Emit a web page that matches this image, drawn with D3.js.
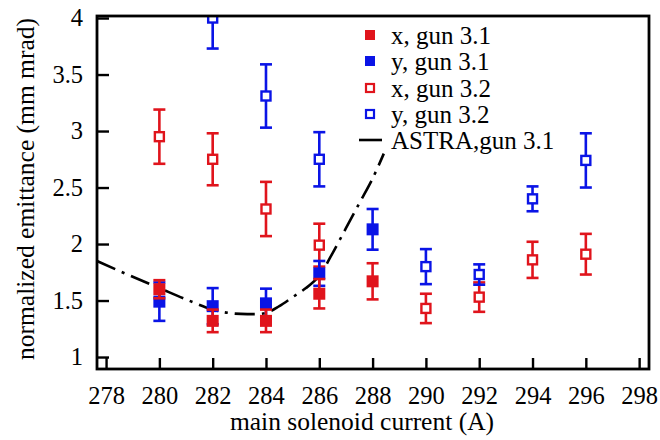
<!DOCTYPE html>
<html>
<head>
<meta charset="utf-8">
<script src="https://cdn.jsdelivr.net/npm/d3@7"></script>
<style>
  html, body { margin: 0; padding: 0; background: #fff; }
  svg { display: block; }
  text { font-family: "Liberation Serif", "Times New Roman", serif; fill: #000; }
</style>
</head>
<body>
<svg id="chart" width="660" height="440"></svg>
<script>
// ---- data ----
const xTicks = [278, 280, 282, 284, 286, 288, 290, 292, 294, 296, 298];
const yTicks = [1, 1.5, 2, 2.5, 3, 3.5, 4];

const xGun31Current = [280, 282, 284, 286, 288];
const xGun31Value   = [1.60, 1.32, 1.32, 1.56, 1.67];
const xGun31Err     = [0.08, 0.10, 0.10, 0.13, 0.16];

const yGun31Current = [280, 282, 284, 286, 288];
const yGun31Value   = [1.49, 1.45, 1.475, 1.74, 2.13];
const yGun31Err     = [0.17, 0.16, 0.13, 0.11, 0.18];

const xGun32Current = [280, 282, 284, 286, 290, 292, 294, 296];
const xGun32Value   = [2.95, 2.75, 2.31, 1.99, 1.43, 1.53, 1.86, 1.91];
const xGun32Err     = [0.24, 0.23, 0.24, 0.19, 0.13, 0.13, 0.16, 0.18];

const yGun32Current = [282, 284, 286, 290, 292, 294, 296];
const yGun32Value   = [4.00, 3.31, 2.75, 1.80, 1.73, 2.40, 2.74];
const yGun32Err     = [0.27, 0.28, 0.24, 0.155, 0.09, 0.11, 0.24];

const astraCurrent = [277.66, 279, 280, 281, 282, 282.6, 283.3, 284, 284.5, 285, 285.5, 286, 286.5, 287, 287.5, 288, 288.42];
const astraValue   = [1.85, 1.71, 1.61, 1.51, 1.42, 1.39, 1.38, 1.39, 1.45, 1.53, 1.61, 1.72, 1.92, 2.14, 2.36, 2.58, 2.80];

const legendLabels = ["x, gun 3.1", "y, gun 3.1", "x, gun 3.2", "y, gun 3.2", "ASTRA,gun 3.1"];

const RED = "#e0141c";
const BLUE = "#0a14e6";

// ---- layout ----
const svg = d3.select("#chart");
const L = 97, R = 649, T = 16, B = 369;

const x = d3.scaleLinear().domain([277.66, 298.37]).range([L, R]);
const y = d3.scaleLinear().domain([0.894, 4.018]).range([B, T]);

svg.append("defs").append("clipPath").attr("id", "plotclip")
  .append("rect").attr("x", L).attr("y", T).attr("width", R - L).attr("height", B - T);

const plot = svg.append("g").attr("clip-path", "url(#plotclip)");

// ASTRA line
const line = d3.line().x(d => x(d[0])).y(d => y(d[1])).curve(d3.curveCatmullRom);
plot.append("path")
  .datum(astraCurrent.map((c, i) => [c, astraValue[i]]))
  .attr("d", line)
  .attr("fill", "none")
  .attr("stroke", "#000")
  .attr("stroke-width", 2.6)
  .attr("stroke-dasharray", "20,7,3,7");

function series(cur, val, err, color, filled) {
  const data = cur.map((c, i) => ({c, v: val[i], e: err[i]}));
  const g = plot.append("g");
  const cap = 6;
  data.forEach(d => {
    const cx = x(d.c);
    g.append("line").attr("x1", cx).attr("x2", cx)
      .attr("y1", y(d.v - d.e)).attr("y2", y(d.v + d.e))
      .attr("stroke", color).attr("stroke-width", 2.6);
    [d.v - d.e, d.v + d.e].forEach(v => {
      g.append("line").attr("x1", cx - cap).attr("x2", cx + cap)
        .attr("y1", y(v)).attr("y2", y(v))
        .attr("stroke", color).attr("stroke-width", 2.6);
    });
    if (filled) {
      g.append("rect").attr("x", cx - 6).attr("y", y(d.v) - 6)
        .attr("width", 12).attr("height", 12).attr("fill", color);
    } else {
      g.append("rect").attr("x", cx - 4.5).attr("y", y(d.v) - 4.5)
        .attr("width", 9).attr("height", 9)
        .attr("fill", "#fff").attr("stroke", color).attr("stroke-width", 2.4);
    }
  });
}

series(xGun32Current, xGun32Value, xGun32Err, RED, false);
series(yGun32Current, yGun32Value, yGun32Err, BLUE, false);
series(yGun31Current, yGun31Value, yGun31Err, BLUE, true);
series(xGun31Current, xGun31Value, xGun31Err, RED, true);

// axes
const xAxis = svg.append("g").attr("transform", `translate(0,${B})`)
  .call(d3.axisBottom(x).tickValues(xTicks).tickFormat(d3.format("d")).tickSize(-11).tickPadding(18));
const yAxis = svg.append("g").attr("transform", `translate(${L},0)`)
  .call(d3.axisLeft(y).tickValues(yTicks).tickFormat(d => d).tickSize(-12).tickPadding(14));
[xAxis, yAxis].forEach(a => {
  a.select(".domain").remove();
  a.selectAll(".tick line").attr("stroke", "#000").attr("stroke-width", 2.4);
  a.selectAll(".tick text").style("font-family", "'Liberation Serif', serif").style("font-size", "24.5px").attr("fill", "#000");
});

// frame
svg.append("rect").attr("x", L).attr("y", T).attr("width", R - L).attr("height", B - T)
  .attr("fill", "none").attr("stroke", "#000").attr("stroke-width", 2.8);

// axis titles
svg.append("text").attr("x", 362).attr("y", 430).attr("text-anchor", "middle")
  .style("font-size", "25.5px").text("main solenoid current (A)");
svg.append("text").attr("transform", "translate(34,189) rotate(-90)").attr("text-anchor", "middle")
  .style("font-size", "25.5px").text("normalized emittance (mm mrad)");

// legend
const legY = [35, 61, 88, 114, 140];
const lg = svg.append("g");
legendLabels.forEach((lab, i) => {
  const yy = legY[i];
  if (i === 0 || i === 1) {
    lg.append("rect").attr("x", 365).attr("y", yy - 5).attr("width", 10).attr("height", 10)
      .attr("fill", i === 0 ? RED : BLUE);
  } else if (i === 2 || i === 3) {
    lg.append("rect").attr("x", 366).attr("y", yy - 4).attr("width", 8).attr("height", 8)
      .attr("fill", "#fff").attr("stroke", i === 2 ? RED : BLUE).attr("stroke-width", 2.2);
  } else {
    lg.append("line").attr("x1", 359).attr("x2", 382).attr("y1", yy).attr("y2", yy)
      .attr("stroke", "#000").attr("stroke-width", 2.6);
  }
  lg.append("text").attr("x", 391).attr("y", yy + 8.5)
    .style("font-size", "25px").text(lab);
});
</script>
</body>
</html>
